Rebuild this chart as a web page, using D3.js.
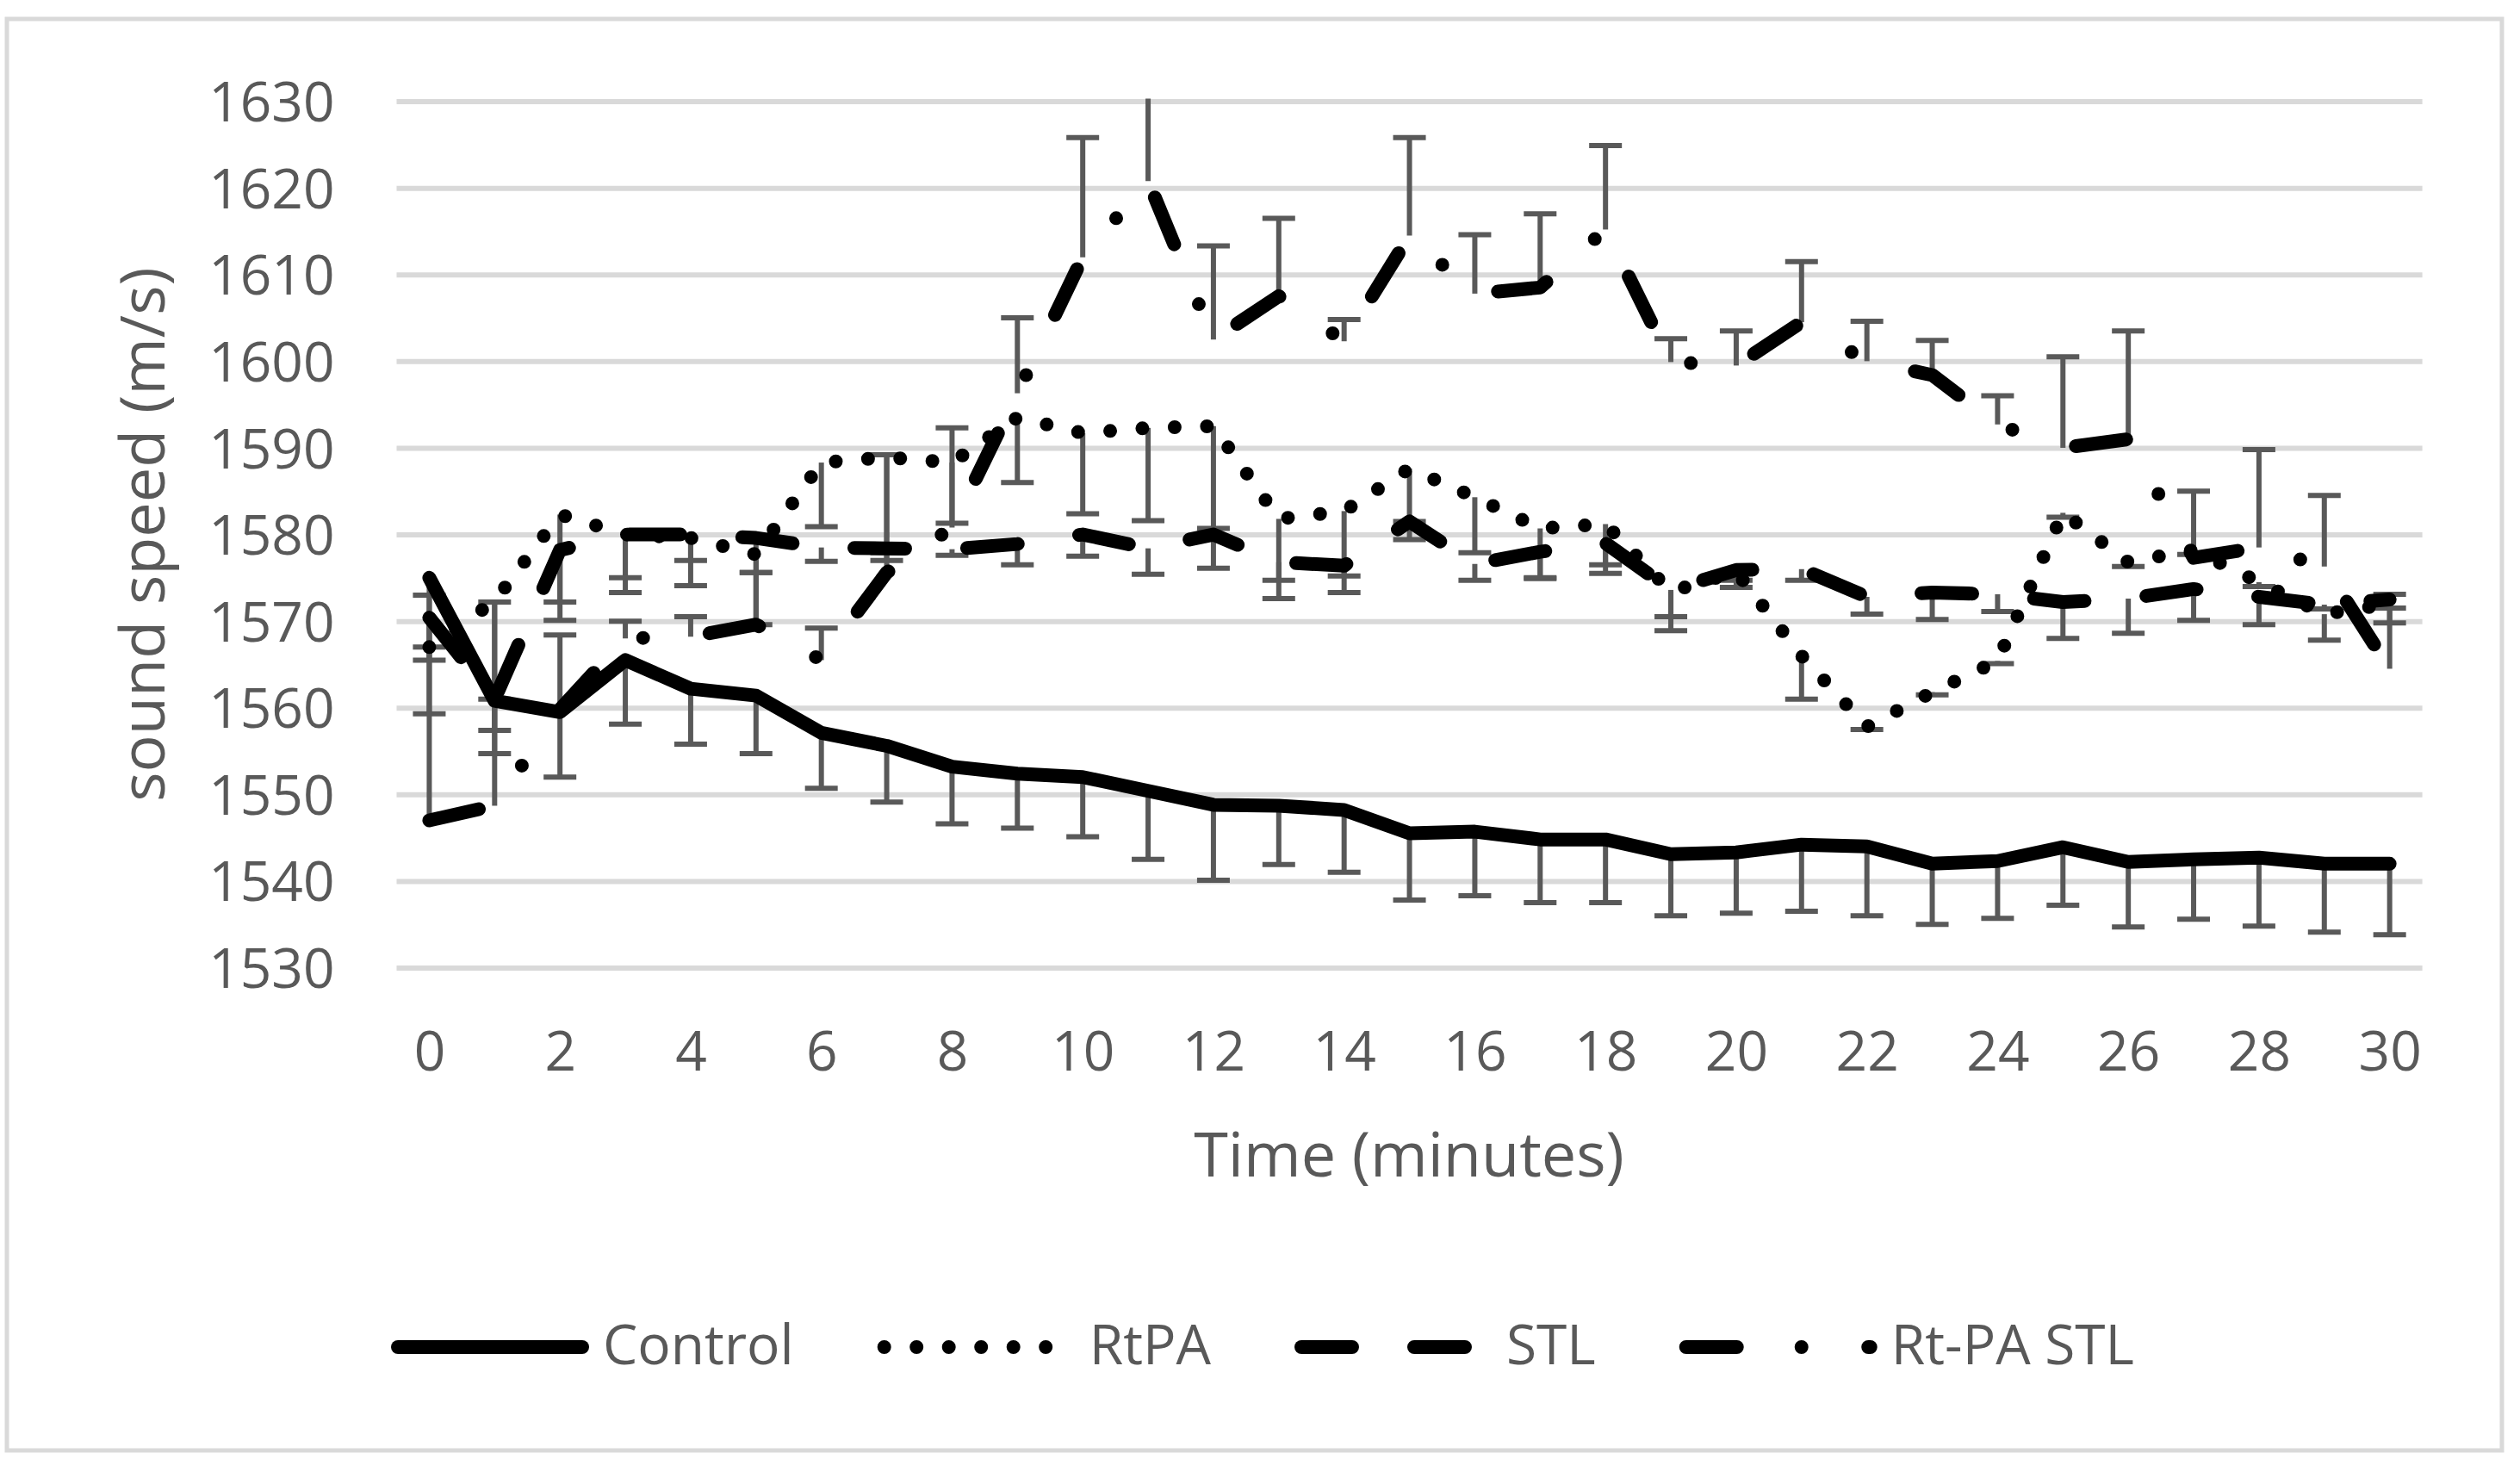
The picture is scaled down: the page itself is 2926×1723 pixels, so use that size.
<!DOCTYPE html>
<meta charset="utf-8">
<title>Sound speed over time</title>
<style>
  body { margin: 0; background: #fff; }
  text { font-family: "Open Sans", sans-serif; fill: #595959; }
</style>
<body>
<div id="chart"></div>
<script src="https://cdn.jsdelivr.net/npm/d3@7/dist/d3.min.js"></script>
<script>

// time points (minutes)
const minutes = [0, 1, 2, 3, 4, 5, 6, 7, 8, 9, 10, 11, 12, 13, 14, 15,
  16, 17, 18, 19, 20, 21, 22, 23, 24, 25, 26, 27, 28, 29, 30];
const xTickValues = [0, 2, 4, 6, 8, 10, 12, 14, 16, 18, 20, 22, 24, 26, 28, 30];
const yTickValues = [1530, 1540, 1550, 1560, 1570, 1580, 1590, 1600, 1610, 1620, 1630];

// sound speed (m/s)
const control = [1575, 1560.8, 1559.5, 1565.5, 1562.2, 1561.4, 1557.1, 1555.6, 1553.2, 1552.4,
  1552, 1550.4, 1548.8, 1548.7, 1548.2, 1545.5, 1545.7, 1544.8, 1544.8, 1543.1,
  1543.3, 1544.2, 1544, 1542, 1542.3, 1543.9, 1542.2, 1542.5, 1542.7, 1542, 1542];
const controlErr = [9.5, 6.1, 7.5, 7.4, 6.4, 6.7, 6.4, 6.5, 6.6, 6.3, 6.9, 7.9, 8.7, 6.8, 7.2,
  7.7, 7.4, 7.3, 7.3, 7.1, 7, 7.7, 8, 7, 6.6, 6.7, 7.5, 6.9, 7.9, 7.9, 8.2];

const rtpa = [1567, 1572.3, 1582.3, 1580, 1579.6, 1577.7, 1588.3, 1588.9, 1588.3, 1593.5,
  1591.7, 1592.3, 1592.5, 1581.8, 1582.7, 1587.6, 1584.3, 1580.7, 1581.2, 1573.4,
  1575.7, 1566, 1557.8, 1561.8, 1565.4, 1582.5, 1576.8, 1578.2, 1574.5, 1570.8, 1572];
const rtpaErr = [7.7, 11.3, 12.2, 6.7, 5.5, 8.1, 7.4, 11.9, 7, 7.5, 9.3, 10.7, 11.8, 7.1, 7.5,
  6.1, 6.4, 5.8, 4.7, 2.9, 1, 5, 0.3, 0.3, 0.3, 0.5, 0.5, 0.5, 0.5, 3, 0.5];

const stl = [1570.4, 1561, 1578.2, 1580, 1580, 1579.6, 1578.5, 1578.4, 1578.3, 1578.9,
  1580, 1578.4, 1580, 1576.8, 1576.4, 1581.5, 1576.6, 1578, 1579, 1573.6,
  1575.9, 1576, 1572.8, 1573.3, 1573.1, 1572.2, 1572.6, 1573.7, 1572.8, 1571.9, 1572.5];
const stlErr = [3.4, 3.6, 6, 5, 3, 4, 1.6, 0.5, 0.7, 2.4, 2.5, 3, 3.9, 4.2, 3.1,
  2.1, 1.9, 3, 3.5, 4.7, 2, 1.3, 2, 3.1, 2, 4.2, 4, 3.6, 3.2, 0.5, 2.7];

const rtpaStl = [1547, 1548.7, 1559.8, 1568, 1568.2, 1569.6, 1565.5, 1575.6, 1580.8, 1596.3,
  1612, 1620.8, 1602.5, 1607.5, 1602.3, 1614.5, 1607.8, 1608.5, 1615.2, 1599.9,
  1599.5, 1604.5, 1600, 1598.4, 1592.7, 1590, 1591, 1577.3, 1578.5, 1576.3, 1564.5];
const rtpaStlErr = [26, 23.5, 8.6, 2, 2.3, 6, 3.7, 13.6, 11.5, 8.7, 13.8, 12, 10.8, 9, 2.5,
  11.3, 6.8, 8.5, 9.7, 2.7, 4, 7, 4.6, 4, 3.3, 10.5, 12.5, 7.7, 11.3, 8.2, 8.6];

const seriesNames = ["Control", "RtPA", "STL", "Rt-PA STL"];

const width = 2926, height = 1723;
const plot = { left: 460.5, right: 2812.6, top: 117.6, bottom: 1123.5 };
const lineWidth = 16;

// minus bars for the first three groups, plus bars for Rt-PA STL
const series = [
  { name: seriesNames[0], values: control, err: controlErr, dir: -1, dash: null },
  { name: seriesNames[1], values: rtpa, err: rtpaErr, dir: -1, dash: "0,37.5" },
  { name: seriesNames[2], values: stl, err: stlErr, dir: -1, dash: "59,72" },
  { name: seriesNames[3], values: rtpaStl, err: rtpaStlErr, dir: 1, dash: "59,75,0,77.5" }
];

const svg = d3.select("#chart").append("svg")
  .attr("width", width)
  .attr("height", height);

svg.append("rect")
  .attr("x", 8).attr("y", 22)
  .attr("width", 2897).attr("height", 1662)
  .attr("fill", "#fff")
  .attr("stroke", "#d9d9d9")
  .attr("stroke-width", 5);

const x = d3.scalePoint()
  .domain(minutes)
  .range([plot.left, plot.right])
  .padding(0.5);

const y = d3.scaleLinear()
  .domain([1530, 1630])
  .range([plot.bottom, plot.top]);

// gridlines + y labels
const yAxis = svg.append("g")
  .attr("transform", `translate(${plot.left},0)`)
  .call(d3.axisLeft(y)
    .tickValues(yTickValues)
    .tickSize(-(plot.right - plot.left))
    .tickPadding(72)
    .tickFormat(d3.format("d")));
yAxis.select(".domain").remove();
yAxis.selectAll(".tick line")
  .attr("stroke", "#d9d9d9")
  .attr("stroke-width", 6);
yAxis.selectAll(".tick text")
  .attr("font-size", 64)
  .attr("dy", "0.36em");

// x labels
const xAxis = svg.append("g")
  .attr("transform", `translate(0,${plot.bottom})`)
  .call(d3.axisBottom(x).tickValues(xTickValues).tickSize(0));
xAxis.select(".domain").remove();
xAxis.selectAll(".tick text")
  .attr("font-size", 64)
  .attr("y", 1243 - plot.bottom)
  .attr("dy", 0);

// axis titles
svg.append("text")
  .attr("transform", "translate(191,620.5) rotate(-90)")
  .attr("text-anchor", "middle")
  .attr("font-size", 72)
  .text("sound speed (m/s)");

svg.append("text")
  .attr("x", 1636).attr("y", 1366)
  .attr("text-anchor", "middle")
  .attr("font-size", 72)
  .text("Time (minutes)");

// error bars, clipped to the plot area
svg.append("clipPath").attr("id", "plot-clip")
  .append("rect")
  .attr("x", plot.left).attr("y", plot.top - 3)
  .attr("width", plot.right - plot.left)
  .attr("height", plot.bottom - plot.top + 60);

const bars = svg.append("g")
  .attr("clip-path", "url(#plot-clip)")
  .attr("stroke", "#595959")
  .attr("stroke-width", 6);

const capHalf = 19;
series.forEach(s => {
  s.values.forEach((v, i) => {
    const cx = x(minutes[i]);
    const yEnd = y(v + s.dir * s.err[i]);
    bars.append("line")
      .attr("x1", cx).attr("x2", cx)
      .attr("y1", y(v)).attr("y2", yEnd);
    bars.append("line")
      .attr("x1", cx - capHalf).attr("x2", cx + capHalf)
      .attr("y1", yEnd).attr("y2", yEnd);
  });
});

// series lines
const line = d3.line()
  .x((d, i) => x(minutes[i]))
  .y(d => y(d));

series.forEach(s => {
  svg.append("path")
    .datum(s.values)
    .attr("fill", "none")
    .attr("stroke", "#000")
    .attr("stroke-width", lineWidth)
    .attr("stroke-linecap", "round")
    .attr("stroke-linejoin", "round")
    .attr("stroke-dasharray", s.dash)
    .attr("d", line);
});

// legend, centred on the chart frame
const legend = svg.append("g");
const legendLine = 230, legendGap = 16, itemGap = 97, legendY = 1564;
const items = series.map(s => {
  const g = legend.append("g");
  g.append("path")
    .attr("d", `M${lineWidth / 2},${legendY}H${legendLine - lineWidth / 2}`)
    .attr("stroke", "#000")
    .attr("stroke-width", lineWidth)
    .attr("stroke-linecap", "round")
    .attr("stroke-dasharray", s.dash);
  const t = g.append("text")
    .attr("x", legendLine + legendGap)
    .attr("y", 1584)
    .attr("font-size", 64)
    .text(s.name);
  return { g, w: legendLine + legendGap + t.node().getComputedTextLength() };
});
const total = d3.sum(items, d => d.w) + itemGap * (items.length - 1);
let cursor = 1466 - total / 2;
items.forEach(d => {
  d.g.attr("transform", `translate(${cursor},0)`);
  cursor += d.w + itemGap;
});

</script>
</body>
